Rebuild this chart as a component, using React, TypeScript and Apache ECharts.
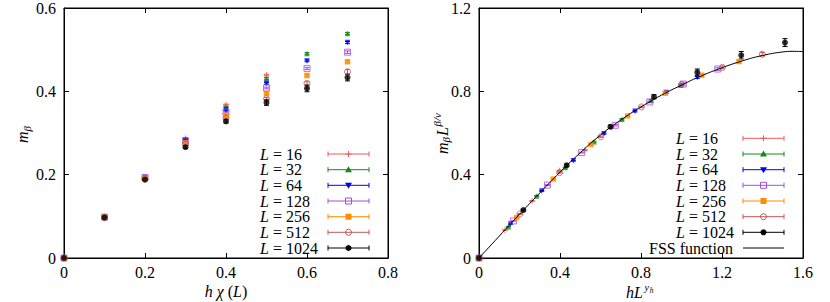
import React, { useEffect, useRef } from "react";
import * as echarts from "echarts";

const FONT = "Liberation Serif";

// ---------- data: left panel (m_beta vs h chi(L)) ----------
const hChi = [0, 0.1, 0.2, 0.3, 0.4, 0.5, 0.6, 0.7];
const sizeLabels = ["16", "32", "64", "128", "256", "512", "1024"];

const mL16 = [0, 0.098, 0.193, 0.287, 0.368, 0.439];
const mL32 = [0, 0.098, 0.193, 0.285, 0.362, 0.431, 0.491, 0.539];
const mL64 = [0, 0.098, 0.193, 0.283, 0.355, 0.419, 0.473, 0.517];
const mL128 = [0, 0.098, 0.193, 0.281, 0.350, 0.408, 0.455, 0.494];
const mL256 = [0, 0.098, 0.192, 0.277, 0.342, 0.395, 0.438, 0.471];
const mL512 = [0, 0.098, 0.190, 0.272, 0.336, 0.382, 0.419, 0.447];
const mL1024 = [0, 0.097, 0.188, 0.266, 0.328, 0.373, 0.407, 0.433];

const eL16 = [0, 0.0005, 0.001, 0.001, 0.0015, 0.002];
const eL32 = [0, 0.0005, 0.001, 0.001, 0.0015, 0.002, 0.002, 0.0025];
const eL64 = [0, 0.0005, 0.001, 0.001, 0.0015, 0.002, 0.002, 0.0025];
const eL128 = [0, 0.0005, 0.001, 0.001, 0.0015, 0.002, 0.0025, 0.003];
const eL256 = [0, 0.0005, 0.001, 0.0015, 0.002, 0.0025, 0.003, 0.003];
const eL512 = [0, 0.0005, 0.001, 0.0015, 0.002, 0.003, 0.004, 0.005];
const eL1024 = [0, 0.001, 0.002, 0.003, 0.004, 0.0065, 0.008, 0.008];

// ---------- data: right panel (scaling collapse) ----------
const xR16 = [0, 0.128, 0.262, 0.397, 0.523, 0.655];
const yR16 = [0, 0.134, 0.274, 0.419, 0.518, 0.628];
const xR32 = [0, 0.145, 0.285, 0.426, 0.568, 0.706, 0.85, 0.996];
const yR32 = [0, 0.150, 0.298, 0.434, 0.558, 0.666, 0.757, 0.829];
const xR64 = [0, 0.156, 0.310, 0.466, 0.617, 0.770, 0.925, 1.078];
const yR64 = [0, 0.163, 0.322, 0.467, 0.597, 0.704, 0.795, 0.867];
const xR128 = [0, 0.170, 0.338, 0.507, 0.673, 0.843, 1.009, 1.179];
const yR128 = [0, 0.178, 0.350, 0.506, 0.637, 0.749, 0.835, 0.907];
const xR256 = [0, 0.186, 0.367, 0.553, 0.734, 0.920, 1.100, 1.284];
const yR256 = [0, 0.194, 0.379, 0.545, 0.682, 0.791, 0.877, 0.943];
const xR512 = [0, 0.202, 0.398, 0.601, 0.802, 1.000, 1.202, 1.399];
const yR512 = [0, 0.211, 0.410, 0.582, 0.725, 0.833, 0.915, 0.978];
const xR1024 = [0, 0.219, 0.433, 0.649, 0.864, 1.078, 1.295, 1.511];
const yR1024 = [0, 0.230, 0.445, 0.630, 0.774, 0.891, 0.973, 1.034];

const eR16 = [0, 0.001, 0.002, 0.002, 0.003, 0.003];
const eR32 = [0, 0.001, 0.002, 0.002, 0.003, 0.003, 0.004, 0.004];
const eR64 = [0, 0.001, 0.002, 0.002, 0.003, 0.003, 0.004, 0.005];
const eR128 = [0, 0.001, 0.002, 0.002, 0.003, 0.004, 0.005, 0.006];
const eR256 = [0, 0.001, 0.002, 0.003, 0.003, 0.004, 0.006, 0.007];
const eR512 = [0, 0.002, 0.002, 0.003, 0.004, 0.006, 0.007, 0.008];
const eR1024 = [0, 0.004, 0.006, 0.008, 0.010, 0.016, 0.018, 0.019];

const fssX = [0, 0.1, 0.2, 0.3, 0.4, 0.5, 0.6, 0.7, 0.8, 0.9, 1.0, 1.1, 1.2, 1.3, 1.4, 1.5, 1.55, 1.6];
const fssY = [0, 0.105, 0.210, 0.312, 0.412, 0.505, 0.590, 0.662, 0.725, 0.781, 0.830, 0.875, 0.913, 0.946, 0.972, 0.989, 0.992, 0.991];

const leftValues = [mL16, mL32, mL64, mL128, mL256, mL512, mL1024];
const leftErrors = [eL16, eL32, eL64, eL128, eL256, eL512, eL1024];
const rightX = [xR16, xR32, xR64, xR128, xR256, xR512, xR1024];
const rightY = [yR16, yR32, yR64, yR128, yR256, yR512, yR1024];
const rightErrors = [eR16, eR32, eR64, eR128, eR256, eR512, eR1024];

// ---------- presentation ----------
const colors = ["#f05a5a", "#148a14", "#0000ff", "#a64ee0", "#ff8c00", "#c05858", "#000000"];
const kinds = ["plus", "triUp", "triDown", "openSquare", "square", "openCircle", "circle"];

function symbolStyle(kind: string, color: string) {
  switch (kind) {
    case "plus":
      return { symbol: "path://M5,0L5,10M0,5L10,5", symbolSize: 6, symbolRotate: 0, itemStyle: { color: "none", borderColor: color, borderWidth: 1 } };
    case "triUp":
      return { symbol: "triangle", symbolSize: 5.5, symbolRotate: 0, itemStyle: { color } };
    case "triDown":
      return { symbol: "triangle", symbolSize: 5.5, symbolRotate: 180, itemStyle: { color } };
    case "openSquare":
      return { symbol: "rect", symbolSize: 6, symbolRotate: 0, itemStyle: { color: "none", borderColor: color, borderWidth: 1 } };
    case "square":
      return { symbol: "rect", symbolSize: 5.5, symbolRotate: 0, itemStyle: { color } };
    case "openCircle":
      return { symbol: "circle", symbolSize: 6, symbolRotate: 0, itemStyle: { color: "none", borderColor: color, borderWidth: 1 } };
    default:
      return { symbol: "circle", symbolSize: 6, symbolRotate: 0, itemStyle: { color } };
  }
}

function errorBars(name: string, xi: number, yi: number, data: number[][], color: string) {
  return {
    type: "custom",
    name,
    xAxisIndex: xi,
    yAxisIndex: yi,
    silent: true,
    data,
    encode: { x: 0, y: [1, 2] },
    renderItem: (_p: any, api: any) => {
      const x = api.value(0);
      const lo = api.value(1);
      const hi = api.value(2);
      const a = api.coord([x, lo]);
      const b = api.coord([x, hi]);
      const w = 2.5;
      const st = { stroke: color, lineWidth: 1 };
      return {
        type: "group",
        children: [
          { type: "line", shape: { x1: a[0], y1: a[1], x2: b[0], y2: b[1] }, style: st },
          { type: "line", shape: { x1: a[0] - w, y1: a[1], x2: a[0] + w, y2: a[1] }, style: st },
          { type: "line", shape: { x1: b[0] - w, y1: b[1], x2: b[0] + w, y2: b[1] }, style: st },
        ],
      };
    },
  };
}

function legendMarker(kind: string, cx: number, cy: number, color: string): any[] {
  const st = { stroke: color, lineWidth: 1, fill: "none" };
  switch (kind) {
    case "plus":
      return [
        { type: "line", shape: { x1: cx - 3, y1: cy, x2: cx + 3, y2: cy }, style: st },
        { type: "line", shape: { x1: cx, y1: cy - 3, x2: cx, y2: cy + 3 }, style: st },
      ];
    case "triUp":
      return [{ type: "polygon", shape: { points: [[cx, cy - 3.5], [cx - 3.5, cy + 2.5], [cx + 3.5, cy + 2.5]] }, style: { fill: color } }];
    case "triDown":
      return [{ type: "polygon", shape: { points: [[cx, cy + 3.5], [cx - 3.5, cy - 2.5], [cx + 3.5, cy - 2.5]] }, style: { fill: color } }];
    case "openSquare":
      return [{ type: "rect", shape: { x: cx - 3, y: cy - 3, width: 6, height: 6 }, style: st }];
    case "square":
      return [{ type: "rect", shape: { x: cx - 3, y: cy - 3, width: 6, height: 6 }, style: { fill: color } }];
    case "openCircle":
      return [{ type: "circle", shape: { cx, cy, r: 3 }, style: st }];
    default:
      return [{ type: "circle", shape: { cx, cy, r: 3 }, style: { fill: color } }];
  }
}

function legendEntry(textX: number, x1: number, x2: number, y: number, label: string, kind: string, color: string) {
  const st = { stroke: color, lineWidth: 1 };
  const els: any[] = [
    {
      type: "text",
      x: textX,
      y,
      style: {
        text: "{i|L} = " + label,
        fontFamily: FONT,
        fontSize: 16,
        fill: "#000",
        align: "left",
        verticalAlign: "middle",
        rich: { i: { fontStyle: "italic", fontSize: 16, fontFamily: FONT } },
      },
    },
    { type: "line", shape: { x1, y1: y, x2, y2: y }, style: st },
    { type: "line", shape: { x1, y1: y - 2.5, x2: x1, y2: y + 2.5 }, style: st },
    { type: "line", shape: { x1: x2, y1: y - 2.5, x2, y2: y + 2.5 }, style: st },
  ];
  return els.concat(legendMarker(kind, (x1 + x2) / 2, y, color));
}

function txt(x: number, y: number, text: string, size: number, italic: boolean, align = "left") {
  return {
    type: "text",
    x,
    y,
    style: {
      text,
      fontFamily: FONT,
      fontSize: size,
      fontStyle: italic ? "italic" : "normal",
      fill: "#000",
      align,
      verticalAlign: "middle",
    },
  };
}

const axisBase = {
  type: "value",
  axisLine: { show: true, onZero: false, lineStyle: { color: "#000", width: 1 } },
  axisTick: { show: true, inside: true, length: 5, lineStyle: { color: "#000", width: 1 } },
  splitLine: { show: false },
  axisLabel: { fontFamily: FONT, fontSize: 16, color: "#000", margin: 8 },
};

function axis(extra: any, showLabel: boolean, margin = 8) {
  return {
    ...axisBase,
    ...extra,
    axisLabel: { ...axisBase.axisLabel, show: showLabel, margin },
  };
}

export default function App() {
  const ref = useRef<HTMLDivElement>(null);

  useEffect(() => {
    if (!ref.current) return;
    const chart = echarts.init(ref.current, undefined, { renderer: "svg" });

    const series: any[] = [];
    // left panel
    leftValues.forEach((vals, i) => {
      const errs = leftErrors[i];
      const ebData = vals
        .map((v, j) => [hChi[j], v - errs[j], v + errs[j], errs[j]])
        .filter((d) => d[3] > 0)
        .map((d) => [d[0], d[1], d[2]]);
      series.push(errorBars("eL" + sizeLabels[i], 0, 0, ebData, colors[i]));
      series.push({
        type: "scatter",
        name: "L = " + sizeLabels[i],
        xAxisIndex: 0,
        yAxisIndex: 0,
        data: vals.map((v, j) => [hChi[j], v]),
        ...symbolStyle(kinds[i], colors[i]),
      });
    });
    // right panel
    rightX.forEach((xs, i) => {
      const ys = rightY[i];
      const errs = rightErrors[i];
      const ebData = xs
        .map((x, j) => [x, ys[j] - errs[j], ys[j] + errs[j], errs[j]])
        .filter((d) => d[3] > 0)
        .map((d) => [d[0], d[1], d[2]]);
      series.push(errorBars("eR" + sizeLabels[i], 2, 2, ebData, colors[i]));
      series.push({
        type: "scatter",
        name: "R L = " + sizeLabels[i],
        xAxisIndex: 2,
        yAxisIndex: 2,
        data: xs.map((x, j) => [x, ys[j]]),
        ...symbolStyle(kinds[i], colors[i]),
      });
    });
    series.push({
      type: "line",
      name: "FSS function",
      xAxisIndex: 2,
      yAxisIndex: 2,
      smooth: true,
      showSymbol: false,
      symbol: "none",
      lineStyle: { color: "#000", width: 1 },
      data: fssX.map((x, j) => [x, fssY[j]]),
    });

    const leftRows = [154, 169.7, 185.3, 201, 216.7, 232.3, 248];
    const rightRows = [138.3, 154, 169.7, 185.3, 201, 216.7, 232.3];
    let graphics: any[] = [];
    sizeLabels.forEach((lab, i) => {
      graphics = graphics.concat(legendEntry(260, 328, 369, leftRows[i], lab, kinds[i], colors[i]));
      graphics = graphics.concat(legendEntry(676, 743, 784, rightRows[i], lab, kinds[i], colors[i]));
    });
    graphics.push(txt(733, 248, "FSS function", 16, false, "right"));
    graphics.push({ type: "line", shape: { x1: 743, y1: 248, x2: 784, y2: 248 }, style: { stroke: "#000", lineWidth: 1 } });

    // x-axis titles
    graphics.push({
      type: "text",
      x: 226,
      y: 291.5,
      style: {
        text: "{i|h} {i|χ} ({i|L})",
        fontFamily: FONT,
        fontSize: 16,
        fill: "#000",
        align: "center",
        verticalAlign: "middle",
        rich: { i: { fontStyle: "italic", fontSize: 16, fontFamily: FONT } },
      },
    });
    graphics.push({
      type: "group",
      children: [
        txt(626, 292.5, "h", 16, true),
        txt(634, 292.5, "L", 16, true),
        txt(644.5, 287, "y", 10, true),
        txt(649.8, 290.5, "h", 7.5, true),
      ],
    });
    // y-axis titles (rotated)
    graphics.push({
      type: "group",
      x: 22.5,
      y: 133,
      rotation: Math.PI / 2,
      children: [txt(-10, 0, "m", 16, true), txt(1.5, 4, "β", 11, true)],
    });
    graphics.push({
      type: "group",
      x: 442,
      y: 133,
      rotation: Math.PI / 2,
      children: [
        txt(-21, 0, "m", 16, true),
        txt(-9.5, 4, "β", 11, true),
        txt(-3, 0, "L", 16, true),
        txt(6.5, -5, "β/ν", 11, true),
      ],
    });

    chart.setOption({
      animation: false,
      backgroundColor: "#fff",
      textStyle: { fontFamily: FONT },
      grid: [
        { left: 64, top: 8, width: 324, height: 250, show: true, borderColor: "#000", borderWidth: 1, backgroundColor: "transparent" },
        { left: 479, top: 8, width: 324, height: 250, show: true, borderColor: "#000", borderWidth: 1, backgroundColor: "transparent" },
      ],
      xAxis: [
        axis({ gridIndex: 0, position: "bottom", min: 0, max: 0.8, interval: 0.2 }, true, 6),
        axis({ gridIndex: 0, position: "top", min: 0, max: 0.8, interval: 0.2 }, false),
        axis({ gridIndex: 1, position: "bottom", min: 0, max: 1.6, interval: 0.4 }, true, 6),
        axis({ gridIndex: 1, position: "top", min: 0, max: 1.6, interval: 0.4 }, false),
      ],
      yAxis: [
        axis({ gridIndex: 0, position: "left", min: 0, max: 0.6, interval: 0.2 }, true),
        axis({ gridIndex: 0, position: "right", min: 0, max: 0.6, interval: 0.2 }, false),
        axis({ gridIndex: 1, position: "left", min: 0, max: 1.2, interval: 0.4 }, true),
        axis({ gridIndex: 1, position: "right", min: 0, max: 1.2, interval: 0.4 }, false),
      ],
      series,
      graphic: graphics,
    });

    return () => chart.dispose();
  }, []);

  return (
    <div
      ref={ref}
      style={{ position: "fixed", left: 0, top: 0, width: 830, height: 302, background: "#fff" }}
    />
  );
}
